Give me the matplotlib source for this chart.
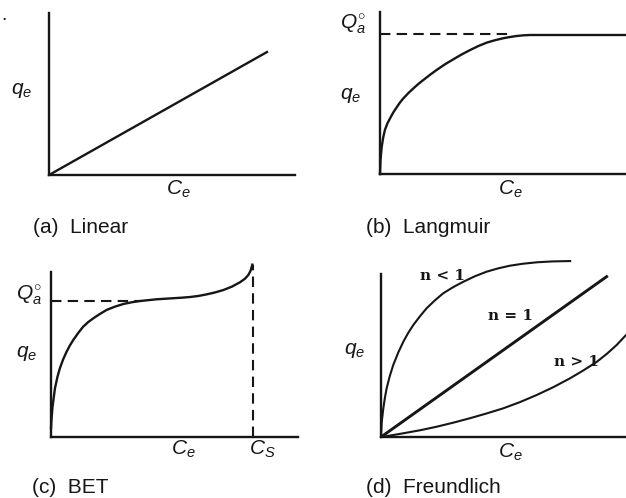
import numpy as np
import matplotlib
matplotlib.use("Agg")
import matplotlib.pyplot as plt

plt.rcParams['font.family'] = ['Liberation Sans', 'DejaVu Sans']
plt.rcParams['mathtext.fontset'] = 'custom'
plt.rcParams['mathtext.it'] = 'Liberation Sans:italic'
plt.rcParams['mathtext.rm'] = 'Liberation Sans'

INK = '#161616'
W, H = 626, 498

# (a) linear isotherm, end point of the line (fraction of axes)
lin_x = [0.0, 0.886]
lin_y = [0.0, 0.759]

# (b) Langmuir curve
lang_x = [0.0, 0.002, 0.007, 0.013, 0.020, 0.030, 0.041, 0.054, 0.068, 0.081,
          0.095, 0.115, 0.136, 0.156, 0.176, 0.203, 0.230, 0.264, 0.298, 0.332,
          0.366, 0.400, 0.434, 0.468, 0.501, 0.530, 0.556, 0.583, 0.610, 1.0]
lang_y = [0.0, 0.085, 0.169, 0.225, 0.272, 0.312, 0.344, 0.380, 0.412, 0.441,
          0.467, 0.499, 0.529, 0.556, 0.580, 0.612, 0.642, 0.677, 0.708, 0.738,
          0.765, 0.790, 0.811, 0.826, 0.838, 0.846, 0.852, 0.856, 0.858, 0.858]
lang_q = 0.864

# (c) BET curve
bet_x = [0.0, 0.002, 0.006, 0.016, 0.026, 0.036, 0.049, 0.063, 0.076, 0.090,
         0.110, 0.130, 0.150, 0.171, 0.198, 0.225, 0.259, 0.293, 0.327, 0.360,
         0.394, 0.428, 0.462, 0.495, 0.529, 0.563, 0.597, 0.630, 0.664, 0.698,
         0.732, 0.765, 0.785, 0.799, 0.808, 0.815]
bet_y = [0.05, 0.10, 0.17, 0.278, 0.343, 0.393, 0.443, 0.487, 0.522, 0.554,
         0.594, 0.630, 0.656, 0.678, 0.703, 0.726, 0.745, 0.760, 0.770, 0.777,
         0.782, 0.787, 0.790, 0.793, 0.796, 0.800, 0.806, 0.815, 0.826, 0.840,
         0.859, 0.884, 0.904, 0.926, 0.950, 0.985]
bet_q = 0.777
bet_cs = 0.818

# (d) Freundlich curves
fr_lo_x = [0.0, 0.003, 0.0095, 0.016, 0.023, 0.036, 0.050, 0.070, 0.091,
           0.111, 0.132, 0.159, 0.186, 0.220, 0.254, 0.295, 0.336, 0.383,
           0.431, 0.479, 0.527, 0.580, 0.636, 0.700, 0.772]
fr_lo_y = [0.0, 0.085, 0.162, 0.222, 0.275, 0.345, 0.407, 0.476, 0.538,
           0.588, 0.633, 0.682, 0.727, 0.772, 0.812, 0.847, 0.877, 0.908,
           0.934, 0.953, 0.968, 0.979, 0.987, 0.992, 0.994]
fr_one_x = [0.0, 0.921]
fr_one_y = [0.0, 0.906]
fr_hi_x = [0.0, 0.045, 0.091, 0.159, 0.227, 0.295, 0.363, 0.431, 0.499, 0.567,
           0.635, 0.704, 0.772, 0.827, 0.881, 0.922, 0.962, 1.0]
fr_hi_y = [0.0, 0.010, 0.021, 0.038, 0.058, 0.081, 0.106, 0.133, 0.162, 0.197,
           0.237, 0.282, 0.332, 0.377, 0.425, 0.470, 0.520, 0.576]


def make_ax(fig, left, top, right, bottom, ytop=None):
  # pixel box -> figure fraction
  ax = fig.add_axes([left / W, 1 - bottom / H, (right - left) / W, (bottom - top) / H])
  ax.set_xlim(0, 1)
  ax.set_ylim(0, 1)
  for s in ['top', 'right']:
    ax.spines[s].set_visible(False)
  for s in ['left', 'bottom']:
    ax.spines[s].set_linewidth(1.7)
    ax.spines[s].set_color(INK)
  if ytop is not None:
    ax.spines['left'].set_bounds(0, ytop)
  ax.set_xticks([])
  ax.set_yticks([])
  ax.patch.set_alpha(0)
  return ax


def ftext(fig, x, y, s, **kw):
  kw.setdefault('color', INK)
  kw.setdefault('va', 'center')
  kw.setdefault('ha', 'center')
  fig.text(x / W, 1 - y / H, s, **kw)


fig = plt.figure(figsize=(W / 100, H / 100), dpi=100)

lw = 1.7
dash = dict(ls=(0, (5.0, 3.0)), lw=1.5, color=INK)

# (a)
ax = make_ax(fig, 49, 13, 295, 175)
ax.plot(lin_x, lin_y, color=INK, lw=lw)

# (b)
ax = make_ax(fig, 380, 12, 626, 174)
ax.plot(lang_x, lang_y, color=INK, lw=lw, clip_on=False)
ax.plot([0, 0.52], [lang_q, lang_q], **dash)

# (c)
ax = make_ax(fig, 51, 262, 298, 437, ytop=0.943)
ax.plot(bet_x, bet_y, color=INK, lw=lw, clip_on=False)
ax.plot([0, 0.37], [bet_q, bet_q], **dash)
ax.plot([bet_cs, bet_cs], [0, bet_y[-1]], **dash)

# (d)
ax = make_ax(fig, 381, 260, 626, 437, ytop=0.921)
ax.plot(fr_lo_x, fr_lo_y, color=INK, lw=1.5)
ax.plot(fr_one_x, fr_one_y, color=INK, lw=2.1)
ax.plot(fr_hi_x, fr_hi_y, color=INK, lw=1.5, clip_on=False)

# labels
fs = 15
cap = 15
ftext(fig, 22, 90, r'$q_e$', fontsize=fs)
ftext(fig, 178, 189, r'$C_e$', fontsize=fs)
ftext(fig, 33, 227, '(a)  Linear', fontsize=cap, ha='left')

ftext(fig, 353, 25, r'$Q_a^{\circ}$', fontsize=fs)
ftext(fig, 351, 95, r'$q_e$', fontsize=fs)
ftext(fig, 510, 189, r'$C_e$', fontsize=fs)
ftext(fig, 366, 227, '(b)  Langmuir', fontsize=cap, ha='left')

ftext(fig, 29, 296, r'$Q_a^{\circ}$', fontsize=fs)
ftext(fig, 27, 353, r'$q_e$', fontsize=fs)
ftext(fig, 183, 449, r'$C_e$', fontsize=fs)
ftext(fig, 262, 449, r'$C_S$', fontsize=fs)
ftext(fig, 32, 487, '(c)  BET', fontsize=cap, ha='left')

ftext(fig, 355, 350, r'$q_e$', fontsize=fs)
ftext(fig, 510, 452, r'$C_e$', fontsize=fs)
ftext(fig, 366, 487, '(d)  Freundlich', fontsize=cap, ha='left')
ftext(fig, 443, 276, r'n < 1', fontsize=11, fontweight='bold', family='DejaVu Serif')
ftext(fig, 511, 316, r'n = 1', fontsize=11, fontweight='bold', family='DejaVu Serif')
ftext(fig, 576, 362, r'n > 1', fontsize=11, fontweight='bold', family='DejaVu Serif')

ftext(fig, 4, 15, '.', fontsize=14)

fig.savefig('out.png', dpi=100)
